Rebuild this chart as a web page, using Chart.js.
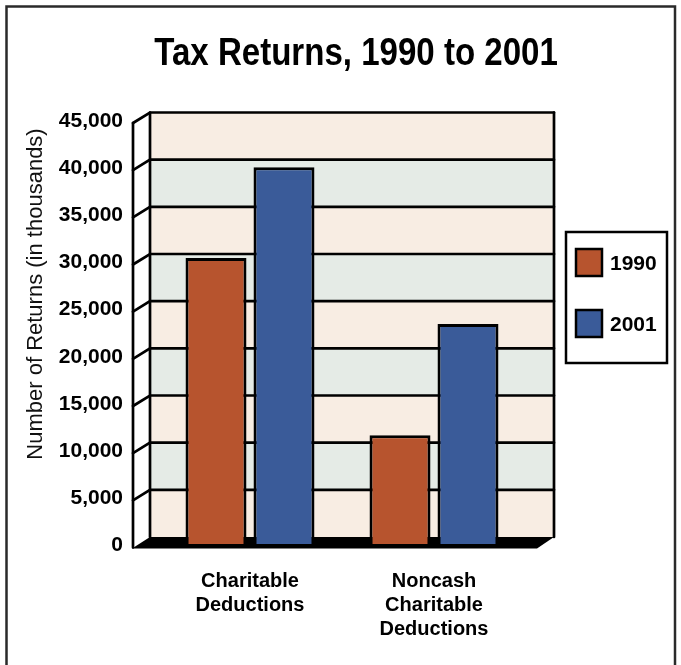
<!DOCTYPE html>
<html><head><meta charset="utf-8">
<script src="https://cdn.jsdelivr.net/npm/chart.js@4/dist/chart.umd.min.js"></script>
<style>html,body{margin:0;padding:0;background:#fff}#wrap{width:681px;height:665px;position:relative}</style>
</head><body><div id="wrap"><canvas id="c" width="681" height="665"></canvas></div>
<script>
// ---- data ----
const categories = [["Charitable", "Deductions"], ["Noncash", "Charitable", "Deductions"]];
const seriesNames = ["1990", "2001"];
const values1990 = [30700, 11900];
const values2001 = [40300, 23700];
const yTickValues = [0, 5000, 10000, 15000, 20000, 25000, 30000, 35000, 40000, 45000];
const titleText = "Tax Returns, 1990 to 2001";
const yAxisTitle = "Number of Returns (in thousands)";

// ---- styles ----
const COL_1990 = "#B7542E";
const COL_2001 = "#3A5B99";
const BAND_A = "#F8EDE3";
const BAND_B = "#E5EBE6";
const FONT = '"Liberation Sans", Arial, Helvetica, sans-serif';

const decor = {
  id: "decor",
  beforeDraw(chart) {
    const ctx = chart.ctx;
    ctx.save();
    ctx.fillStyle = "#fff";
    ctx.fillRect(0, 0, chart.width, chart.height);
    ctx.strokeStyle = "#2a2a2a";
    ctx.lineWidth = 2.5;
    ctx.strokeRect(6.5, 6.5, 668.5, 700);
    ctx.restore();
  },
  beforeDatasetsDraw(chart) {
    const ctx = chart.ctx, ca = chart.chartArea, ys = chart.scales.y;
    const DX = 17, DY = -10.5;
    const fl = ca.left - 25, fr = ca.right + 11;
    const bl = fl + DX, br = fr + DX;
    const vals = yTickValues;
    const py = v => ys.getPixelForValue(v);
    const yTopF = py(vals[vals.length - 1]), yBotF = py(vals[0]);
    ctx.save();
    for (let i = 0; i < vals.length - 1; i++) {
      const y0 = py(vals[i]) + DY, y1 = py(vals[i + 1]) + DY;
      ctx.fillStyle = i % 2 === 0 ? BAND_A : BAND_B;
      ctx.fillRect(bl, y1, br - bl, y0 - y1);
    }
    ctx.fillStyle = "#fff";
    ctx.beginPath();
    ctx.moveTo(fl, yTopF); ctx.lineTo(bl, yTopF + DY); ctx.lineTo(bl, yBotF + DY); ctx.lineTo(fl, yBotF);
    ctx.closePath(); ctx.fill();
    ctx.strokeStyle = "#000";
    ctx.lineWidth = 2.7;
    ctx.lineCap = "round";
    for (let i = 1; i < vals.length; i++) {
      const yf = py(vals[i]), yb = yf + DY;
      ctx.beginPath();
      ctx.moveTo(fl, yf); ctx.lineTo(bl, yb); ctx.lineTo(br, yb);
      ctx.stroke();
    }
    ctx.beginPath();
    ctx.moveTo(bl, yBotF + DY); ctx.lineTo(bl, yTopF + DY);
    ctx.moveTo(br, yTopF + DY); ctx.lineTo(br, yBotF + DY);
    ctx.moveTo(fl, yTopF); ctx.lineTo(fl, yBotF);
    ctx.stroke();
    ctx.fillStyle = "#000";
    ctx.beginPath();
    ctx.moveTo(fl - 1, yBotF + 1); ctx.lineTo(fr, yBotF + 1); ctx.lineTo(br, yBotF + DY); ctx.lineTo(bl, yBotF + DY);
    ctx.closePath(); ctx.fill();
    ctx.restore();
  },
  afterDraw(chart) {
    const ctx = chart.ctx;
    ctx.save();
    ctx.fillStyle = "#000";
    ctx.font = "bold 38px " + FONT;
    ctx.textAlign = "center";
    ctx.textBaseline = "alphabetic";
    ctx.translate(356, 65);
    ctx.scale(0.87, 1);
    ctx.fillText(titleText, 0, 0);
    ctx.restore();
    ctx.save();
    ctx.fillStyle = "#111";
    ctx.font = "22px " + FONT;
    ctx.textAlign = "center";
    ctx.textBaseline = "middle";
    ctx.translate(36, 294);
    ctx.rotate(-Math.PI / 2);
    ctx.fillText(yAxisTitle, 0, 0);
    ctx.restore();
    ctx.save();
    ctx.strokeStyle = "#000";
    ctx.lineWidth = 2.5;
    ctx.strokeRect(566, 232, 101, 131);
    chart.data.datasets.forEach((ds, i) => {
      const sy = 249 + i * 61;
      ctx.fillStyle = ds.backgroundColor;
      ctx.fillRect(576, sy, 26, 27);
      ctx.strokeRect(576, sy, 26, 27);
      ctx.fillStyle = "#000";
      ctx.font = "bold 21px " + FONT;
      ctx.textAlign = "left";
      ctx.textBaseline = "middle";
      ctx.fillText(ds.label, 610, sy + 15);
    });
    ctx.restore();
  }
};

new Chart(document.getElementById("c"), {
  type: "bar",
  data: {
    labels: categories,
    datasets: [
      { label: seriesNames[0], data: values1990, backgroundColor: COL_1990, borderColor: "#000", borderWidth: 3, borderSkipped: false },
      { label: seriesNames[1], data: values2001, backgroundColor: COL_2001, borderColor: "#000", borderWidth: 3, borderSkipped: false }
    ]
  },
  options: {
    responsive: false,
    animation: false,
    devicePixelRatio: 1,
    layout: { padding: { left: 0, right: 155, top: 123, bottom: 0 } },
    datasets: { bar: { categoryPercentage: 0.739, barPercentage: 0.897 } },
    plugins: { legend: { display: false }, title: { display: false }, tooltip: { enabled: false } },
    scales: {
      x: {
        grid: { display: true, color: "rgba(0,0,0,0)", drawTicks: false, drawOnChartArea: false },
        border: { display: false },
        ticks: { color: "#000", font: { family: FONT, size: 20, weight: "bold", lineHeight: 1.2 }, padding: 22, maxRotation: 0, autoSkip: false },
        afterFit: s => { s.height = 117.5; }
      },
      y: {
        min: 0, max: 45000,
        afterBuildTicks: s => { s.ticks = yTickValues.map(v => ({ value: v })); },
        grid: { display: true, color: "rgba(0,0,0,0)", drawTicks: false, drawOnChartArea: false },
        border: { display: false },
        ticks: {
          color: "#000", padding: 35, labelOffset: -2,
          font: { family: FONT, size: 21, weight: "bold" },
          callback: v => Number(v).toLocaleString("en-US")
        },
        afterFit: s => { s.width = 158; }
      }
    }
  },
  plugins: [decor]
});
</script>
</body></html>
